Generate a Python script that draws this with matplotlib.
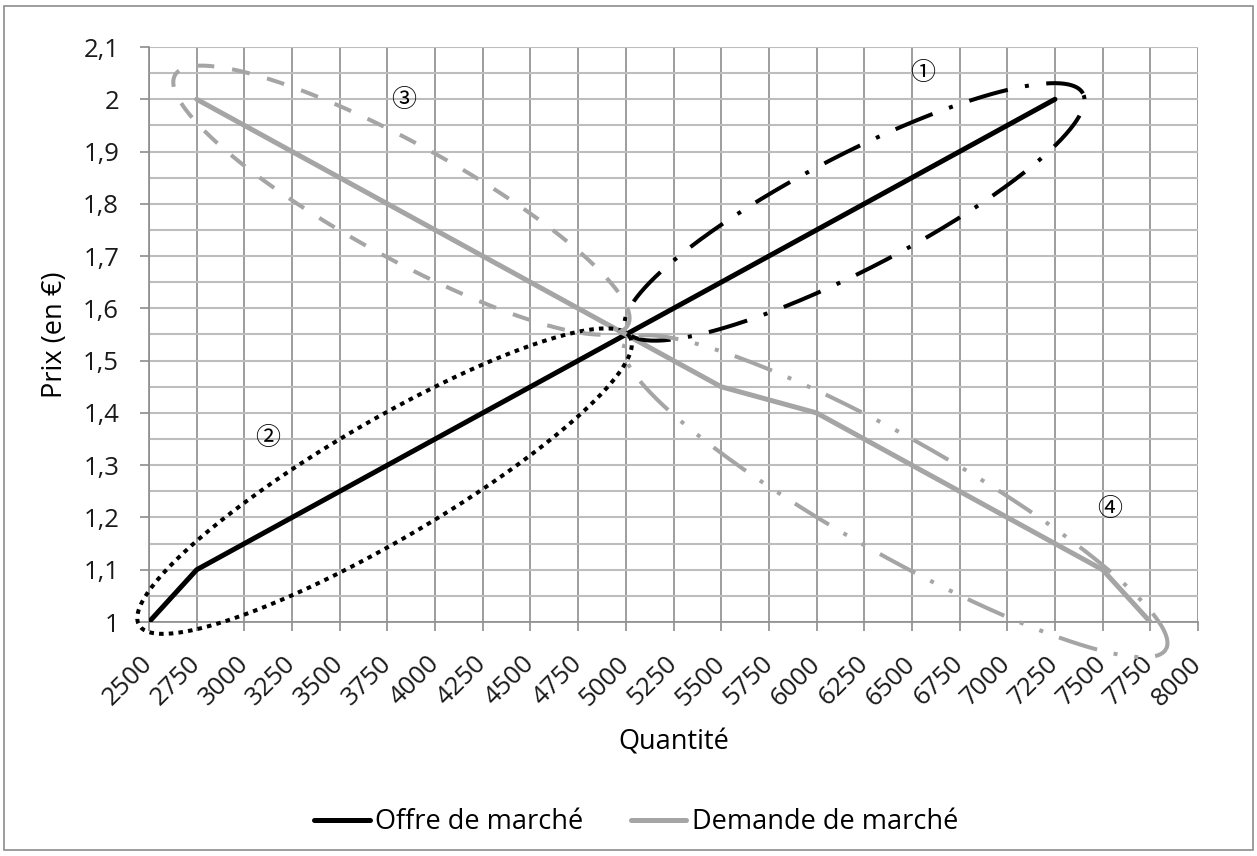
import numpy as np
import matplotlib

matplotlib.use("Agg")
import matplotlib.pyplot as plt
from matplotlib.patches import Rectangle

plt.rcParams["font.family"] = ["Open Sans", "DejaVu Sans"]
plt.rcParams["lines.scale_dashes"] = False

# données
quantite_offre = [2500, 2750, 5000, 7250]
prix_offre = [1.0, 1.1, 1.55, 2.0]
quantite_demande = [2750, 5000, 5500, 6000, 7500, 7750]
prix_demande = [2.0, 1.55, 1.45, 1.4, 1.1, 1.0]

x_ticks = list(range(2500, 8001, 250))
y_ticks = [1.0, 1.1, 1.2, 1.3, 1.4, 1.5, 1.6, 1.7, 1.8, 1.9, 2.0, 2.1]
y_labels = ["1", "1,1", "1,2", "1,3", "1,4", "1,5", "1,6", "1,7", "1,8", "1,9", "2", "2,1"]

# zones entourées : extrémités du grand axe (données) et repère numéroté
zone_labels = ["①", "②", "③", "④"]
zone_start = [(5001, 1.558), (2448, 0.994), (2636, 2.046), (4996, 1.533)]
zone_end = [(7397, 2.011), (5022, 1.545), (5011, 1.568), (7832, 0.948)]
zone_label_pos = [(6558, 2.05), (3124, 1.352), (3837, 1.998), (7537, 1.2155)]

GRAY = "#a5a5a5"
GRID_V = "#8c8c8c"
GRID_H = "#bdbdbd"

zone_styles = [
    dict(color="black", dashes=(28.8, 12.6, 2.9, 12.6), half=57),
    dict(color="black", dashes=(3.3, 3.7), half=59),
    dict(color=GRAY, dashes=(13.0, 13.0), half=57),
    dict(color=GRAY, dashes=(28.8, 12.2, 2.9, 12.2, 2.9, 12.2), half=58),
]


def draw_zone(ax, p0, p1, half, color, dashes):
    """Ellipse drawn in screen space around the segment p0-p1."""
    a, b = ax.transData.transform([p0, p1])
    c = (a + b) / 2
    d = b - a
    semi = np.hypot(*d) / 2
    d = d / np.hypot(*d)
    n = np.array([-d[1], d[0]])
    t = np.linspace(0, 2 * np.pi, 400)
    pts = c + np.outer(semi * np.cos(t), d) + np.outer(half * np.sin(t), n)
    xy = ax.transData.inverted().transform(pts)
    ax.plot(xy[:, 0], xy[:, 1], color=color, lw=2.9, dashes=dashes,
            dash_capstyle="butt", clip_on=False, zorder=4)


fig = plt.figure(figsize=(12.57, 8.56), dpi=100)
ax = fig.add_axes([149 / 1257, 1 - 622 / 856, 1049 / 1257, 575 / 856])
ax.set_xlim(2500, 8000)
ax.set_ylim(1.0, 2.1)

ax.set_xticks(x_ticks)
ax.set_xticklabels([str(v) for v in x_ticks], rotation=45, ha="right", va="center",
                   rotation_mode="anchor")
ax.set_yticks(y_ticks)
ax.set_yticklabels(y_labels)
ax.set_yticks(np.arange(1.05, 2.1, 0.1), minor=True)
ax.tick_params(axis="y", which="minor", length=0)
ax.tick_params(axis="both", which="major", length=6.5, width=1.2, color=GRID_V,
               labelsize=18.5, labelcolor="#1a1a1a")
ax.tick_params(axis="x", pad=21)
ax.tick_params(axis="y", pad=15)

ax.grid(axis="x", which="major", color=GRID_V, lw=1.2)
ax.grid(axis="y", which="both", color=GRID_H, lw=1.5)
ax.set_axisbelow(True)
for side in ["top", "right"]:
    ax.spines[side].set_visible(False)
ax.spines["left"].set_color(GRID_V)
ax.spines["left"].set_linewidth(1.2)
ax.spines["bottom"].set_color(GRID_V)
ax.spines["bottom"].set_linewidth(1.2)

ax.plot(quantite_offre, prix_offre, color="black", lw=3.6, solid_capstyle="round",
        solid_joinstyle="round", label="Offre de marché", zorder=3)
ax.plot(quantite_demande, prix_demande, color=GRAY, lw=3.6, solid_capstyle="round",
        solid_joinstyle="round", label="Demande de marché", zorder=3)

for p0, p1, st in zip(zone_start, zone_end, zone_styles):
    draw_zone(ax, p0, p1, st["half"], st["color"], st["dashes"])
for lab, (qx, py) in zip(zone_labels, zone_label_pos):
    ax.text(qx, py, lab, fontsize=18, ha="center", va="center",
            family=["Noto Sans CJK JP", "DejaVu Sans"], zorder=5)

ax.set_xlabel("Quantité", fontsize=19.5)
ax.xaxis.set_label_coords(0.5, (622 - 743) / 575)
ax.xaxis.label.set_va("center")
ax.set_ylabel("Prix (en €)", fontsize=19.5)
ax.yaxis.set_label_coords((55 - 149) / 1049, 0.5)
ax.yaxis.label.set_va("center")

fig.legend(loc="center", bbox_to_anchor=(636 / 1257, 1 - 822 / 856), ncol=2, frameon=False,
           fontsize=19.5, handlelength=2.05, handletextpad=0.2, columnspacing=1.75)

fig.add_artist(Rectangle((4 / 1257, 6 / 856), 1249 / 1257, 844 / 856, transform=fig.transFigure,
                         fill=False, ec=GRID_V, lw=1.2))

fig.savefig("out.png", dpi=100)
